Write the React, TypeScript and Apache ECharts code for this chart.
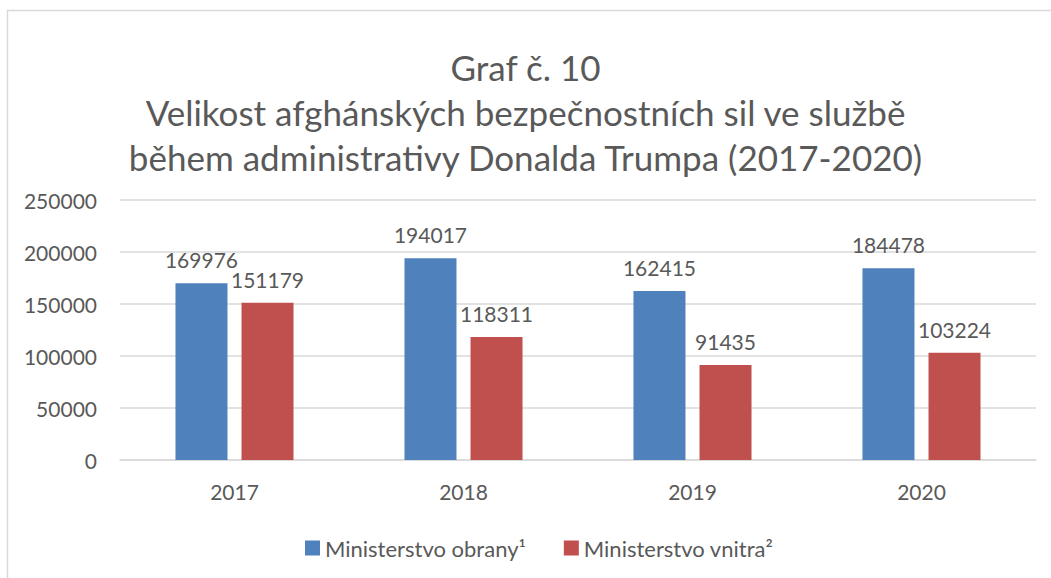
import React, { useEffect, useRef } from "react";
import * as echarts from "echarts";

const titleLines = [
  "Graf č. 10",
  "Velikost afghánských bezpečnostních sil ve službě",
  "během administrativy Donalda Trumpa (2017-2020)",
];
const years = ["2017", "2018", "2019", "2020"];
const obrana = [169976, 194017, 162415, 184478];
const vnitro = [151179, 118311, 91435, 103224];
const seriesNames = ["Ministerstvo obrany¹", "Ministerstvo vnitra²"];

const FONT = "Lato";
const TXT = "#595959";

export default function App() {
  const ref = useRef<HTMLDivElement>(null);
  useEffect(() => {
    if (!ref.current) return;
    const chart = echarts.init(ref.current, null, { renderer: "svg" });
    const label = {
      show: true,
      position: "top",
      distance: 13,
      color: TXT,
      fontSize: 21,
      fontFamily: FONT,
    };
    chart.setOption({
      animation: false,
      backgroundColor: "#ffffff",
      textStyle: { fontFamily: FONT, color: TXT },
      graphic: [
        {
          type: "rect",
          shape: { x: 7.5, y: 10.5, width: 1100, height: 700 },
          style: { fill: "none", stroke: "#d9d9d9", lineWidth: 1.5 },
          silent: true,
        },
      ],
      title: {
        text: titleLines.join("\n"),
        left: "center",
        top: 44,
        padding: 0,
        textStyle: {
          fontFamily: FONT,
          fontSize: 35,
          fontWeight: "normal",
          color: TXT,
          lineHeight: 45,
        },
      },
      legend: {
        bottom: 19,
        left: 305,
        padding: 0,
        itemWidth: 15,
        itemHeight: 15,
        itemGap: 38,
        icon: "rect",
        textStyle: { fontFamily: FONT, fontSize: 22, color: TXT },
        data: seriesNames,
      },
      grid: { left: 120, right: 15, top: 200, bottom: 118, containLabel: false },
      xAxis: {
        type: "category",
        data: years,
        axisLine: { lineStyle: { color: "#d9d9d9", width: 1.5 } },
        axisTick: { show: false },
        axisLabel: { color: TXT, fontSize: 21, fontFamily: FONT, margin: 21 },
      },
      yAxis: {
        type: "value",
        min: 0,
        max: 250000,
        interval: 50000,
        axisLine: { show: false },
        axisTick: { show: false },
        splitLine: { lineStyle: { color: "#d9d9d9", width: 1.5 } },
        axisLabel: {
          color: TXT,
          fontSize: 21,
          fontFamily: FONT,
          margin: 23,
          formatter: (v: number) => String(v),
        },
      },
      series: [
        {
          name: seriesNames[0],
          type: "bar",
          data: obrana,
          itemStyle: { color: "#4F81BD" },
          barWidth: 52,
          barGap: "27%",
          label,
        },
        {
          name: seriesNames[1],
          type: "bar",
          data: vnitro,
          itemStyle: { color: "#C0504D" },
          barWidth: 52,
          barGap: "27%",
          label,
        },
      ],
    });
    return () => chart.dispose();
  }, []);
  return (
    <div
      ref={ref}
      style={{ position: "fixed", left: 0, top: 0, width: 1051, height: 578 }}
    />
  );
}
